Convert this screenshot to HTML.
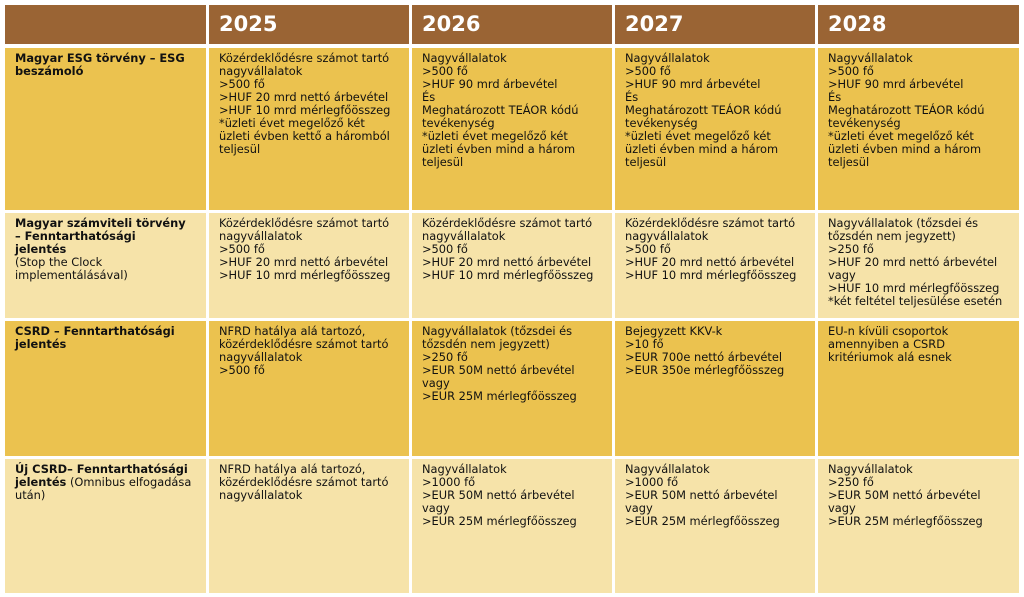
<!DOCTYPE html>
<html><head><meta charset="utf-8"><style>
body{margin:0;width:1024px;height:597px;background:#fff;position:relative;overflow:hidden;font-family:"DejaVu Sans","Liberation Sans",sans-serif;}
.c{position:absolute;box-sizing:border-box;padding:4px 10px;font-size:11.4px;line-height:13px;color:#111;white-space:nowrap;}
.h{background:#9A6434;color:#fff;font-weight:bold;font-size:21px;line-height:34px;padding:2px 10px;}
.d{background:#EBC24F}.l{background:#F6E3A9}
.b{font-weight:bold}
</style></head><body>
<div class="c h" style="left:5px;top:5px;width:201px;height:39px"></div>
<div class="c h" style="left:209px;top:5px;width:200px;height:39px">2025</div>
<div class="c h" style="left:412px;top:5px;width:200px;height:39px">2026</div>
<div class="c h" style="left:615px;top:5px;width:200px;height:39px">2027</div>
<div class="c h" style="left:818px;top:5px;width:201px;height:39px">2028</div>

<div class="c d b" style="left:5px;top:48px;width:201px;height:162px">Magyar ESG törvény – ESG<br>beszámoló</div>
<div class="c d" style="left:209px;top:48px;width:200px;height:162px">Közérdeklődésre számot tartó<br>nagyvállalatok<br>&gt;500 fő<br>&gt;HUF 20 mrd nettó árbevétel<br>&gt;HUF 10 mrd mérlegfőösszeg<br>*üzleti évet megelőző két<br>üzleti évben kettő a háromból<br>teljesül</div>
<div class="c d" style="left:412px;top:48px;width:200px;height:162px">Nagyvállalatok<br>&gt;500 fő<br>&gt;HUF 90 mrd árbevétel<br>És<br>Meghatározott TEÁOR kódú<br>tevékenység<br>*üzleti évet megelőző két<br>üzleti évben mind a három<br>teljesül</div>
<div class="c d" style="left:615px;top:48px;width:200px;height:162px">Nagyvállalatok<br>&gt;500 fő<br>&gt;HUF 90 mrd árbevétel<br>És<br>Meghatározott TEÁOR kódú<br>tevékenység<br>*üzleti évet megelőző két<br>üzleti évben mind a három<br>teljesül</div>
<div class="c d" style="left:818px;top:48px;width:201px;height:162px">Nagyvállalatok<br>&gt;500 fő<br>&gt;HUF 90 mrd árbevétel<br>És<br>Meghatározott TEÁOR kódú<br>tevékenység<br>*üzleti évet megelőző két<br>üzleti évben mind a három<br>teljesül</div>

<div class="c l" style="left:5px;top:213px;width:201px;height:105px"><b>Magyar számviteli törvény<br>– Fenntarthatósági<br>jelentés</b><br>(Stop the Clock<br>implementálásával)</div>
<div class="c l" style="left:209px;top:213px;width:200px;height:105px">Közérdeklődésre számot tartó<br>nagyvállalatok<br>&gt;500 fő<br>&gt;HUF 20 mrd nettó árbevétel<br>&gt;HUF 10 mrd mérlegfőösszeg</div>
<div class="c l" style="left:412px;top:213px;width:200px;height:105px">Közérdeklődésre számot tartó<br>nagyvállalatok<br>&gt;500 fő<br>&gt;HUF 20 mrd nettó árbevétel<br>&gt;HUF 10 mrd mérlegfőösszeg</div>
<div class="c l" style="left:615px;top:213px;width:200px;height:105px">Közérdeklődésre számot tartó<br>nagyvállalatok<br>&gt;500 fő<br>&gt;HUF 20 mrd nettó árbevétel<br>&gt;HUF 10 mrd mérlegfőösszeg</div>
<div class="c l" style="left:818px;top:213px;width:201px;height:105px">Nagyvállalatok (tőzsdei és<br>tőzsdén nem jegyzett)<br>&gt;250 fő<br>&gt;HUF 20 mrd nettó árbevétel<br>vagy<br>&gt;HUF 10 mrd mérlegfőösszeg<br>*két feltétel teljesülése esetén</div>

<div class="c d b" style="left:5px;top:321px;width:201px;height:135px">CSRD – Fenntarthatósági<br>jelentés</div>
<div class="c d" style="left:209px;top:321px;width:200px;height:135px">NFRD hatálya alá tartozó,<br>közérdeklődésre számot tartó<br>nagyvállalatok<br>&gt;500 fő</div>
<div class="c d" style="left:412px;top:321px;width:200px;height:135px">Nagyvállalatok (tőzsdei és<br>tőzsdén nem jegyzett)<br>&gt;250 fő<br>&gt;EUR 50M nettó árbevétel<br>vagy<br>&gt;EUR 25M mérlegfőösszeg</div>
<div class="c d" style="left:615px;top:321px;width:200px;height:135px">Bejegyzett KKV-k<br>&gt;10 fő<br>&gt;EUR 700e nettó árbevétel<br>&gt;EUR 350e mérlegfőösszeg</div>
<div class="c d" style="left:818px;top:321px;width:201px;height:135px">EU-n kívüli csoportok<br>amennyiben a CSRD<br>kritériumok alá esnek</div>

<div class="c l" style="left:5px;top:459px;width:201px;height:134px"><b>Új CSRD– Fenntarthatósági<br>jelentés</b> (Omnibus elfogadása<br>után)</div>
<div class="c l" style="left:209px;top:459px;width:200px;height:134px">NFRD hatálya alá tartozó,<br>közérdeklődésre számot tartó<br>nagyvállalatok</div>
<div class="c l" style="left:412px;top:459px;width:200px;height:134px">Nagyvállalatok<br>&gt;1000 fő<br>&gt;EUR 50M nettó árbevétel<br>vagy<br>&gt;EUR 25M mérlegfőösszeg</div>
<div class="c l" style="left:615px;top:459px;width:200px;height:134px">Nagyvállalatok<br>&gt;1000 fő<br>&gt;EUR 50M nettó árbevétel<br>vagy<br>&gt;EUR 25M mérlegfőösszeg</div>
<div class="c l" style="left:818px;top:459px;width:201px;height:134px">Nagyvállalatok<br>&gt;250 fő<br>&gt;EUR 50M nettó árbevétel<br>vagy<br>&gt;EUR 25M mérlegfőösszeg</div>
</body></html>
